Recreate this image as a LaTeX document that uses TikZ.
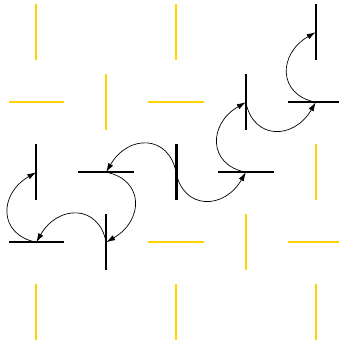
\documentclass[tikz,border=0pt]{standalone}
\usetikzlibrary{arrows.meta}
\definecolor{gold}{RGB}{255,210,0}
\begin{document}
\begin{tikzpicture}[x=1pt,y=1pt,
  ybar/.style={draw=gold,line width=2pt},
  kbar/.style={draw=black,line width=2pt},
  kthick/.style={draw=black,line width=3pt},
  hop/.style={draw=black,line width=0.7pt,-{Latex[length=9pt,width=5.5pt]}},
  bl/.style={out=79,in=120,relative,out looseness=1.42,in looseness=1.6},
  br/.style={out=-79,in=-120,relative,out looseness=1.42,in looseness=1.6}]
\useasboundingbox (0,0) rectangle (339,343);
% grid points
\foreach \i in {0,...,4}{
  \foreach \j in {0,...,4}{
    \coordinate (p\i\j) at ({36.3+69.85*\i},{343-(32.2+70*\j)});
  }
}
\def\hl{27.8}
% vertical bars
\foreach \c/\s in {p00/ybar,p20/ybar,p40/kbar,p11/ybar,p31/kbar,p02/kbar,p22/kthick,p42/ybar,p13/kbar,p33/ybar,p04/ybar,p24/ybar,p44/ybar}{
  \draw[\s] ([yshift=\hl]\c) -- ([yshift=-\hl]\c);
}
% horizontal bars
\foreach \c/\s in {p01/ybar,p21/ybar,p41/kbar,p12/kbar,p32/kbar,p03/kbar,p23/ybar,p43/ybar}{
  \draw[\s] ([xshift=-\hl]\c) -- ([xshift=\hl]\c);
}
% arcs
\draw[hop] (p22) to[br] (p32);
\draw[hop] (p32) to[bl] (p31);
\draw[hop] (p31) to[br] (p41);
\draw[hop] (p41) to[bl] (p40);
\draw[hop] (p22) to[br] (p12);
\draw[hop] (p12) to[bl] (p13);
\draw[hop] (p13) to[br] (p03);
\draw[hop] (p03) to[bl] (p02);
\end{tikzpicture}
\end{document}
